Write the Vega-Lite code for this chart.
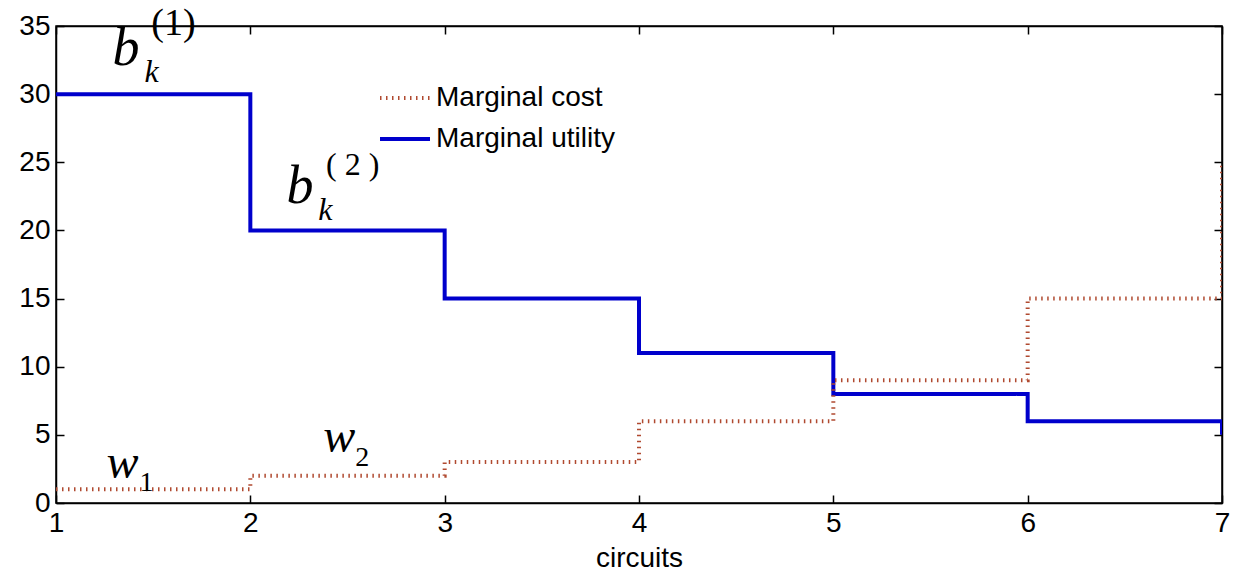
{
  "$schema": "https://vega.github.io/schema/vega-lite/v6.json",
  "width": 1166,
  "height": 477,
  "autosize": {"type": "none"},
  "padding": {"left": 56, "top": 26, "right": 12, "bottom": 70},
  "background": "white",
  "config": {
    "view": {"stroke": "black", "strokeWidth": 1.5},
    "font": "Liberation Sans",
    "axis": {"domainColor": "black", "tickColor": "black", "labelColor": "black", "titleColor": "black", "grid": false, "domainWidth": 1.5, "tickWidth": 1.5}
  },
  "datasets": {
    "lines": [
      {"circuits": 1, "value": 30, "series": "Marginal utility"},
      {"circuits": 2, "value": 20, "series": "Marginal utility"},
      {"circuits": 3, "value": 15, "series": "Marginal utility"},
      {"circuits": 4, "value": 11, "series": "Marginal utility"},
      {"circuits": 5, "value": 8, "series": "Marginal utility"},
      {"circuits": 6, "value": 6, "series": "Marginal utility"},
      {"circuits": 7, "value": 5, "series": "Marginal utility"},
      {"circuits": 1, "value": 1, "series": "Marginal cost"},
      {"circuits": 2, "value": 2, "series": "Marginal cost"},
      {"circuits": 3, "value": 3, "series": "Marginal cost"},
      {"circuits": 4, "value": 6, "series": "Marginal cost"},
      {"circuits": 5, "value": 9, "series": "Marginal cost"},
      {"circuits": 6, "value": 15, "series": "Marginal cost"},
      {"circuits": 7, "value": 25, "series": "Marginal cost"}
    ],
    "notes": [
      {"part": "b", "circuits": 1.291, "value": 32.13, "text": "b"},
      {"part": "b", "circuits": 2.186, "value": 22.0, "text": "b"},
      {"part": "k", "circuits": 1.455, "value": 30.9, "text": "k"},
      {"part": "k", "circuits": 2.35, "value": 20.76, "text": "k"},
      {"part": "sup1", "circuits": 1.49, "value": 34.33, "text": "(1)"},
      {"part": "sup2", "circuits": 2.39, "value": 24.06, "text": "( 2 )"},
      {"part": "w", "circuits": 1.26, "value": 1.83, "text": "w"},
      {"part": "w", "circuits": 2.375, "value": 3.74, "text": "w"},
      {"part": "wsub", "circuits": 1.43, "value": 0.88, "text": "1"},
      {"part": "wsub", "circuits": 2.54, "value": 2.71, "text": "2"}
    ]
  },
  "resolve": {"axis": {"x": "independent", "y": "independent"}},
  "layer": [
    {
      "data": {"name": "lines"},
      "mark": {"type": "line", "interpolate": "step-after", "strokeWidth": 4, "strokeCap": "butt", "clip": true},
      "encoding": {
        "x": {"field": "circuits", "type": "quantitative", "scale": {"domain": [1, 7], "nice": false, "zero": false},
          "axis": {"orient": "bottom", "values": [1, 2, 3, 4, 5, 6, 7], "tickSize": -8, "labelPadding": 14, "labelFontSize": 28, "labelFlush": false, "title": "circuits", "titleFontSize": 28, "titleFontWeight": "normal", "titlePadding": 7}},
        "y": {"field": "value", "type": "quantitative", "scale": {"domain": [0, 35], "nice": false, "zero": true},
          "axis": {"orient": "left", "values": [0, 5, 10, 15, 20, 25, 30, 35], "tickSize": -8, "labelPadding": 14, "labelFontSize": 28, "title": null}},
        "color": {"field": "series", "type": "nominal",
          "scale": {"domain": ["Marginal cost", "Marginal utility"], "range": ["#b04a30", "#0000cc"]},
          "legend": {"orient": "none", "legendX": 322, "legendY": 45, "title": null, "symbolType": "stroke", "symbolSize": 2500, "symbolStrokeWidth": 4, "labelFontSize": 28, "labelOffset": 4, "labelLimit": 0, "labelFont": "Liberation Sans", "labelColor": "black", "rowPadding": -10, "padding": 0}},
        "strokeDash": {"field": "series", "type": "nominal",
          "scale": {"domain": ["Marginal cost", "Marginal utility"], "range": [[1.5, 4.5], [1, 0]]},
          "legend": {"orient": "none", "legendX": 322, "legendY": 45, "title": null, "symbolType": "stroke", "symbolSize": 2500, "symbolStrokeWidth": 4, "labelFontSize": 28, "labelOffset": 4, "labelLimit": 0, "labelFont": "Liberation Sans", "labelColor": "black", "rowPadding": -10, "padding": 0}}
      }
    },
    {
      "data": {"name": "notes"},
      "transform": [{"filter": "datum.part === 'b'"}],
      "mark": {"type": "text", "font": "Liberation Serif", "fontStyle": "italic", "fontSize": 54, "align": "left", "baseline": "alphabetic", "color": "black"},
      "encoding": {
        "x": {"field": "circuits", "type": "quantitative", "axis": {"orient": "top", "values": [1, 2, 3, 4, 5, 6, 7], "tickSize": -8, "labels": false, "title": null}},
        "y": {"field": "value", "type": "quantitative", "axis": {"orient": "right", "values": [0, 5, 10, 15, 20, 25, 30, 35], "tickSize": -8, "labels": false, "title": null}},
        "text": {"field": "text"}
      }
    },
    {
      "data": {"name": "notes"},
      "transform": [{"filter": "datum.part === 'k'"}],
      "mark": {"type": "text", "font": "Liberation Serif", "fontStyle": "italic", "fontSize": 32, "align": "left", "baseline": "alphabetic", "color": "black"},
      "encoding": {
        "x": {"field": "circuits", "type": "quantitative", "axis": null},
        "y": {"field": "value", "type": "quantitative", "axis": null},
        "text": {"field": "text"}
      }
    },
    {
      "data": {"name": "notes"},
      "transform": [{"filter": "datum.part === 'sup1'"}],
      "mark": {"type": "text", "font": "Liberation Serif", "fontSize": 38, "align": "left", "baseline": "alphabetic", "color": "black"},
      "encoding": {
        "x": {"field": "circuits", "type": "quantitative", "axis": null},
        "y": {"field": "value", "type": "quantitative", "axis": null},
        "text": {"field": "text"}
      }
    },
    {
      "data": {"name": "notes"},
      "transform": [{"filter": "datum.part === 'sup2'"}],
      "mark": {"type": "text", "font": "Liberation Serif", "fontSize": 32, "align": "left", "baseline": "alphabetic", "color": "black"},
      "encoding": {
        "x": {"field": "circuits", "type": "quantitative", "axis": null},
        "y": {"field": "value", "type": "quantitative", "axis": null},
        "text": {"field": "text"}
      }
    },
    {
      "data": {"name": "notes"},
      "transform": [{"filter": "datum.part === 'w'"}],
      "mark": {"type": "text", "font": "Liberation Serif", "fontStyle": "italic", "fontSize": 48, "align": "left", "baseline": "alphabetic", "color": "black"},
      "encoding": {
        "x": {"field": "circuits", "type": "quantitative", "axis": null},
        "y": {"field": "value", "type": "quantitative", "axis": null},
        "text": {"field": "text"}
      }
    },
    {
      "data": {"name": "notes"},
      "transform": [{"filter": "datum.part === 'wsub'"}],
      "mark": {"type": "text", "font": "Liberation Serif", "fontSize": 28, "align": "left", "baseline": "alphabetic", "color": "black"},
      "encoding": {
        "x": {"field": "circuits", "type": "quantitative", "axis": null},
        "y": {"field": "value", "type": "quantitative", "axis": null},
        "text": {"field": "text"}
      }
    }
  ]
}
